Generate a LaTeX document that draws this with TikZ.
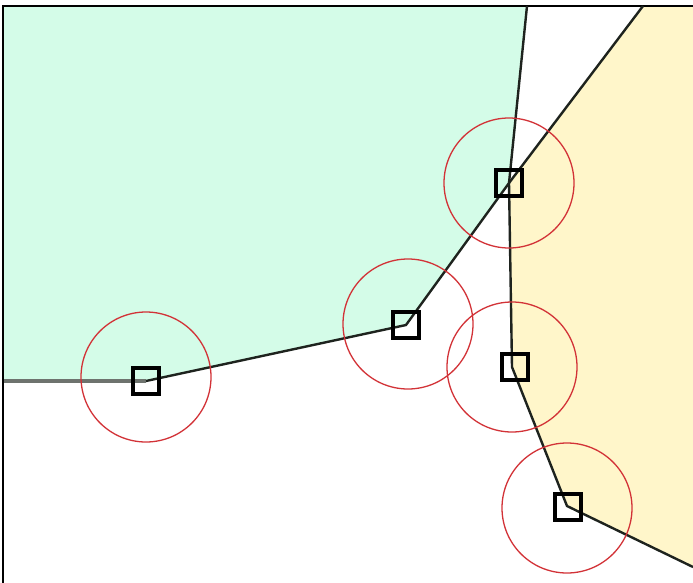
\documentclass[tikz,border=0pt]{standalone}
\definecolor{mint}{RGB}{212,252,232}
\definecolor{cream}{RGB}{255,246,202}
\definecolor{ringred}{RGB}{210,50,55}
\definecolor{edgedark}{RGB}{30,35,30}
\definecolor{edgegray}{RGB}{110,115,110}
\tikzset{
  site/.style={draw=black, line width=3.4pt, rectangle, minimum size=26pt, inner sep=0pt},
  ring/.style={draw=ringred, line width=1.3pt, circle, minimum size=130pt, inner sep=0pt},
  edge/.style={draw=edgedark, line width=2.4pt},
  frameline/.style={draw=black, line width=2.4pt}
}
\begin{document}
\begin{tikzpicture}[x=1pt,y=-1pt]
\useasboundingbox (0,0) rectangle (693,583);
% vertices
\coordinate (A) at (146,381);
\coordinate (B) at (406,325);
\coordinate (C) at (509,183);
\coordinate (D) at (512,367);
\coordinate (E) at (567,506);
\coordinate (L) at (4,381);
\coordinate (T1) at (527,6);
\coordinate (T2) at (643,6);
\coordinate (R) at (693,567);
\coordinate (TL) at (4,6);
\coordinate (TR) at (693,6);
% regions
\fill[mint] (TL) -- (T1) -- (C) -- (B) -- (A) -- (L) -- cycle;
\fill[cream] (C) -- (T2) -- (TR) -- (R) -- (E) -- (D) -- cycle;
% frame
\draw[frameline] (3,583) -- (3,6) -- (693,6);
% edges
\draw[draw=edgegray, line width=3.2pt] (L) -- (A);
\draw[edge] (A) -- (B) -- (C) -- (T1);
\draw[edge] (C) -- (T2);
\draw[edge] (C) -- (D) -- (E) -- (R);
% circles
\node[ring] (cA) at (146,377) {};
\node[ring] (cB) at (408,324) {};
\node[ring] (cC) at (509,183) {};
\node[ring] (cD) at (512,367) {};
\node[ring] (cE) at (567,508) {};
% squares
\node[site] (sA) at (146,381) {};
\node[site] (sB) at (406,325) {};
\node[site] (sC) at (509,183) {};
\node[site] (sD) at (515,367) {};
\node[site] (sE) at (568,507) {};
\end{tikzpicture}
\end{document}
